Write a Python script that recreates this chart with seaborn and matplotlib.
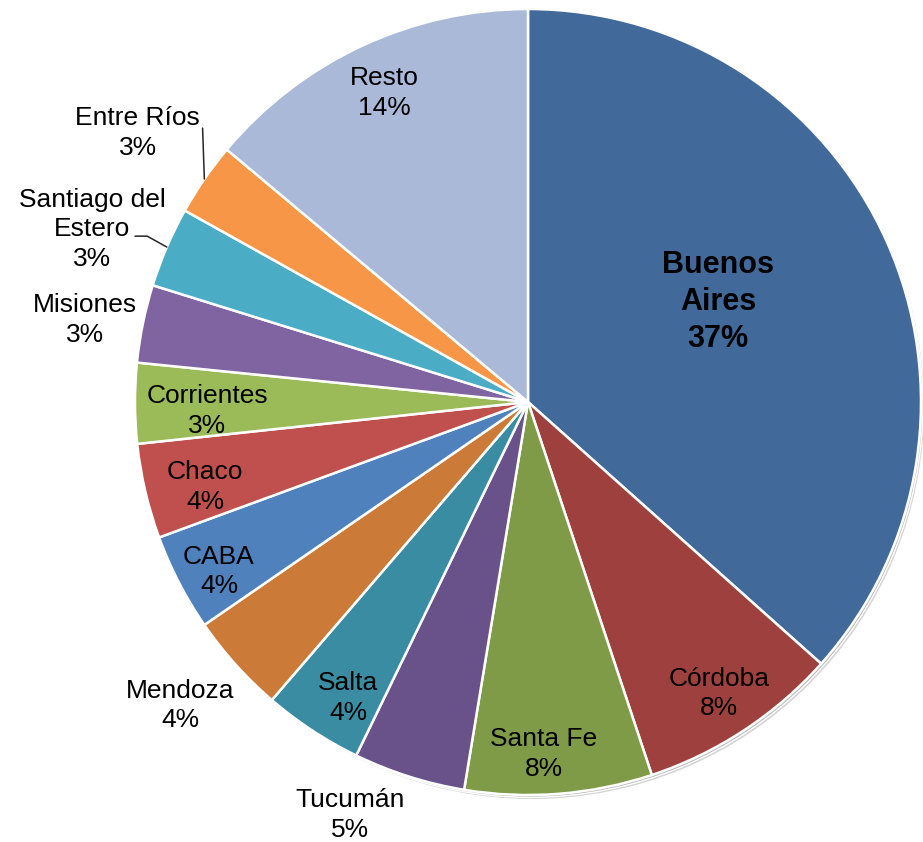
"""Pie chart: share by province (Argentina)."""
import numpy as np
import matplotlib
matplotlib.use("Agg")
import matplotlib.pyplot as plt
import seaborn as sns

# data, clockwise from 12 o'clock
provinces = ["Buenos\nAires", "Córdoba", "Santa Fe", "Tucumán", "Salta", "Mendoza", "CABA",
             "Chaco", "Corrientes", "Misiones", "Santiago del\nEstero", "Entre Ríos", "Resto"]
shares = [36.6, 8.3, 7.7, 4.6, 4.1, 4.1, 4.0, 3.9, 3.3, 3.2, 3.3, 3.0, 13.9]
colors = ["#416A9B", "#9E413E", "#7F9B48", "#69518A", "#3A8CA2", "#CC7A37", "#4F81BD",
          "#C0504D", "#9BBB59", "#8064A2", "#4BACC6", "#F79646", "#AAB9D7"]

# label placement: radius (pie radius = 1) and angle tweak (deg) from wedge middle
label_r = [0.546, 0.887, 0.897, 1.144, 0.881, 1.174, 0.897, 0.850, 0.817, 1.147, 1.193, 1.206, 0.867]
label_dtheta = [3.6, 0, -1.9, -5.7, 2.0, -0.8, 1.4, 1.6, 1.4, 1.0, 1.6, 0, 0]

sns.set_theme(style="white")
plt.rcParams["font.family"] = ["Liberation Sans", "DejaVu Sans"]

fig = plt.figure(figsize=(9.23, 8.42), dpi=100)
ax = fig.add_axes([0, 0, 1, 1])

# soft shadow under the pie
ax.pie([1], radius=1.0, center=(0.010, -0.012), colors=["#d4d4d4"], startangle=90)
ax.pie([1], radius=1.0, center=(0.005, -0.006), colors=["#b8b8b8"], startangle=90)

wedges, _ = ax.pie(shares, colors=colors, startangle=90, counterclock=False,
                   wedgeprops=dict(edgecolor="white", linewidth=1.8))

for i, w in enumerate(wedges):
    mid = np.deg2rad((w.theta1 + w.theta2) / 2 + label_dtheta[i])
    x, y = label_r[i] * np.cos(mid), label_r[i] * np.sin(mid)
    txt = f"{provinces[i]}\n{shares[i]:.0f}%"
    bold = i == 0
    ax.text(x, y, txt, ha="center", va="center", color="black",
            fontsize=22 if bold else 19, fontweight="bold" if bold else "normal",
            linespacing=1.3)

# leader lines for Entre Ríos and Santiago del Estero
def edge_point(w):
    a = np.deg2rad((w.theta1 + w.theta2) / 2)
    return np.cos(a), np.sin(a)

ex, ey = edge_point(wedges[11])
ax.plot([ex, -0.828], [ey, 0.697], color="#262626", linewidth=1.1)
sx, sy = edge_point(wedges[10])
ax.plot([sx, -0.969, -1.0], [sy, 0.422, 0.422], color="#262626", linewidth=1.1)

ax.set_xlim(-528 / 393, 395 / 393)
ax.set_ylim(-440 / 393, 402 / 393)
ax.set_aspect("auto")
ax.axis("off")

fig.savefig("out.png", dpi=100)
